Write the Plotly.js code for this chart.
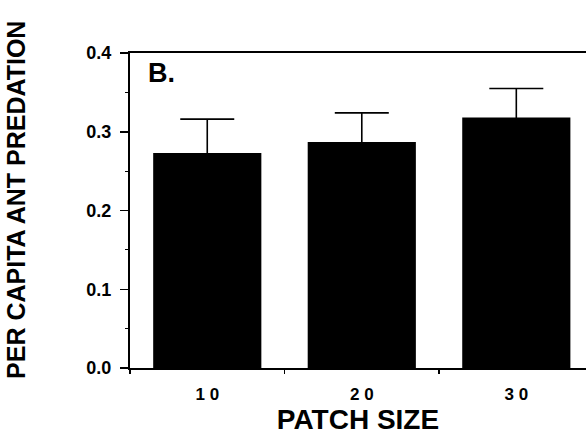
<!DOCTYPE html>
<html>
<head>
<meta charset="utf-8">
<script src="https://cdn.plot.ly/plotly-3.0.1.min.js"></script>
<style>html,body{margin:0;padding:0;background:#fff;}#chart{width:586px;height:435px;}</style>
</head>
<body>
<div id="chart"></div>
<script>
// Data
const patchSizes = ['10', '20', '30'];
const tickLabels = ['1 0', '2 0', '3 0'];
const predation = [0.273, 0.287, 0.318];
const stdError = [0.043, 0.037, 0.037];
const yTickVals = [0.0, 0.1, 0.2, 0.3, 0.4];
const yTickText = ['0.0', '0.1', '0.2', '0.3', '0.4'];

const FONT = 'Liberation Sans, Arial, Helvetica, sans-serif';

const trace = {
  type: 'bar',
  x: tickLabels,
  y: predation,
  customdata: patchSizes,
  width: 0.70,
  marker: {color: '#000000', line: {width: 0}},
  error_y: {
    type: 'data',
    array: stdError,
    symmetric: true,
    visible: true,
    color: '#000000',
    thickness: 1.6,
    width: 27
  },
  hoverinfo: 'none'
};

const layout = {
  width: 586,
  height: 435,
  margin: {l: 130, r: 0, t: 53, b: 67, pad: 0},
  paper_bgcolor: '#ffffff',
  plot_bgcolor: '#ffffff',
  showlegend: false,
  bargap: 0.3,
  font: {family: FONT, color: '#000000'},
  xaxis: {
    type: 'category',
    range: [-0.5, 2.451],
    tickson: 'boundaries',
    ticks: 'outside',
    ticklen: 4,
    tickwidth: 1.5,
    tickcolor: '#000',
    showline: true,
    linewidth: 2.2,
    linecolor: '#000',
    mirror: true,
    showgrid: false,
    zeroline: false,
    ticklabelstandoff: 9,
    tickfont: {family: FONT, size: 17, weight: 'bold'},
    title: {text: 'PATCH SIZE', font: {family: FONT, size: 28, weight: 'bold'}, standoff: 16}
  },
  yaxis: {
    range: [0, 0.4],
    tickvals: yTickVals,
    ticktext: yTickText,
    ticks: 'outside',
    ticklen: 8,
    tickwidth: 1.5,
    tickcolor: '#000',
    minor: {dtick: 0.05, ticks: 'outside', ticklen: 3, tickwidth: 1.2, tickcolor: '#000', showgrid: false},
    showline: true,
    linewidth: 2,
    linecolor: '#000',
    showgrid: false,
    zeroline: false,
    ticklabelstandoff: 5,
    tickfont: {family: FONT, size: 18, weight: 'bold'}
  },
  annotations: [{
    text: 'B.',
    xref: 'paper', yref: 'paper',
    x: 0.036, y: 0.99,
    xanchor: 'left', yanchor: 'top',
    showarrow: false,
    font: {family: FONT, size: 27, weight: 'bold', color: '#000'}
  }, {
    text: 'PER CAPITA ANT PREDATION',
    xref: 'paper', yref: 'paper',
    x: -0.249, y: 0.535,
    xanchor: 'center', yanchor: 'middle',
    textangle: -90,
    showarrow: false,
    font: {family: FONT, size: 25, weight: 'bold', color: '#000'}
  }]
};

Plotly.newPlot('chart', [trace], layout, {displayModeBar: false, staticPlot: true});
</script>
</body>
</html>
